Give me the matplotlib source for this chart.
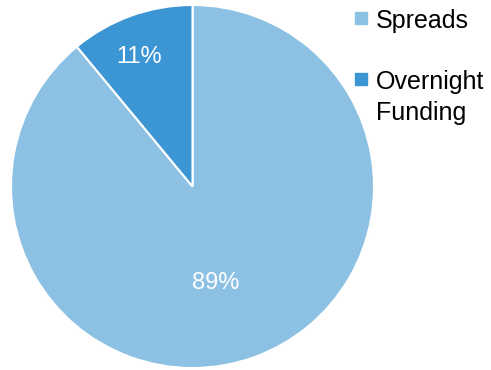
import matplotlib.pyplot as plt
from matplotlib.lines import Line2D

plt.rcParams['font.family'] = ['Liberation Sans', 'DejaVu Sans']

labels = ['Spreads', 'Overnight\nFunding']
shares = [89, 11]
colors = ['#8CC1E4', '#3B96D3']

fig = plt.figure(figsize=(4.91, 3.70), dpi=100)
ax = fig.add_axes([11 / 491, 2 / 370, 363 / 491, 363 / 370])

wedges, texts, pcts = ax.pie(
    shares, colors=colors, startangle=90, counterclock=False,
    autopct='%d%%', pctdistance=0.76, radius=1,
    wedgeprops=dict(edgecolor='white', linewidth=1.5),
    textprops=dict(color='white', fontsize=17))
# nudge the percentage labels
x, y = pcts[0].get_position()
pcts[0].set_position((x * 0.5, y * 0.74))
x, y = pcts[1].get_position()
pcts[1].set_position((x - 0.035, y))
ax.set_xlim(-1, 1)
ax.set_ylim(-1, 1)
ax.set_aspect('equal')

handles = [Line2D([], [], marker='s', linestyle='', markersize=8,
                  markerfacecolor=c, markeredgecolor=c) for c in colors]
leg = fig.legend(handles, labels, loc='upper left', bbox_to_anchor=(331 / 491, 1.037),
                 frameon=False, fontsize=18, handlelength=0.6, handletextpad=0.3,
                 labelspacing=1.5)
for t in leg.get_texts():
    t.set_linespacing(1.35)
# keep each marker level with the first line of its label
for row in leg._legend_handle_box.get_children()[0].get_children():
    row.align = 'top'

fig.savefig('out.png', dpi=100)
